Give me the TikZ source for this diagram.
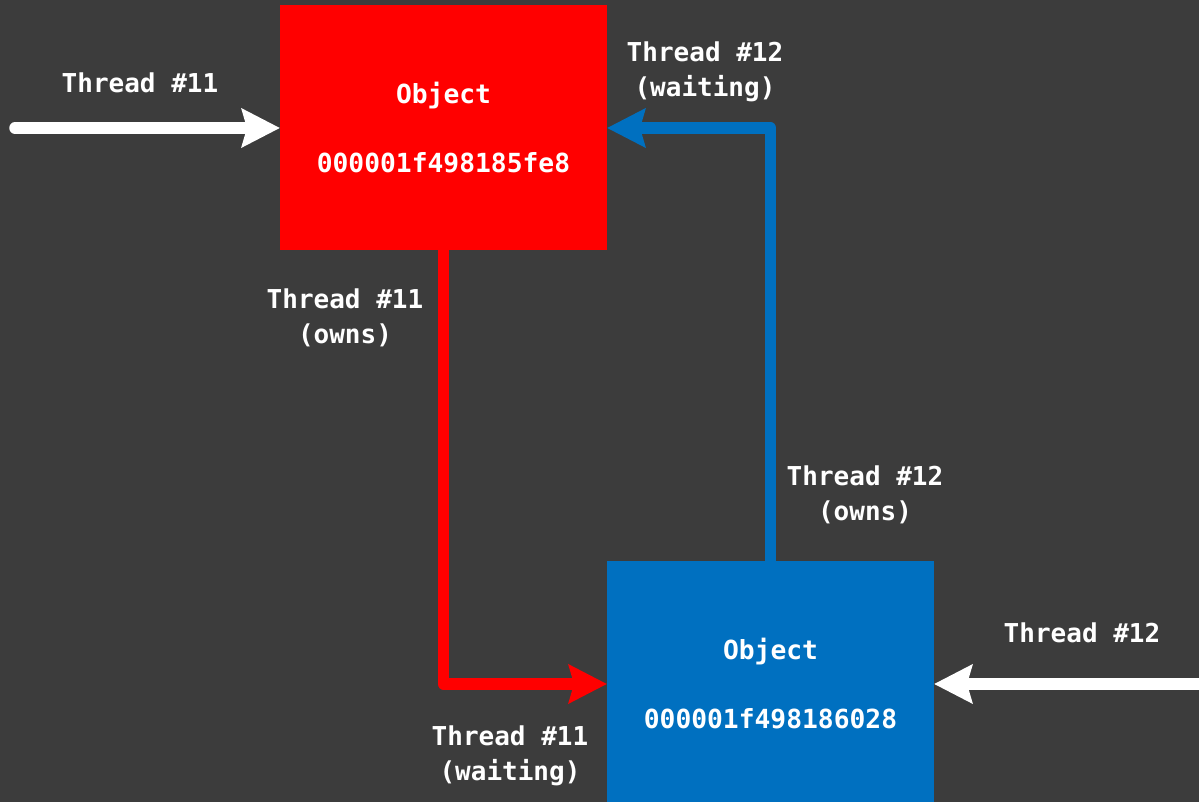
\documentclass[tikz,border=0pt]{standalone}
\usepackage{fontspec}
\setmonofont{DejaVu Sans Mono}
\usetikzlibrary{arrows.meta}
\definecolor{bg}{HTML}{3C3C3C}
\definecolor{objred}{HTML}{FF0000}
\definecolor{objblue}{HTML}{0070C0}
\begin{document}
\begin{tikzpicture}[x=1pt,y=1pt,
  txt/.style={text=white,font=\fontsize{26}{35}\ttfamily\bfseries\selectfont,align=center,inner sep=0pt},
  objbox/.style={minimum width=327pt,minimum height=245pt,inner sep=0pt,outer sep=0pt,text=white,
    font=\fontsize{26.3}{69}\ttfamily\bfseries\selectfont,align=center},
  conn/.style={line width=11.5pt,line join=round,-{Stealth[length=38pt,width=38pt,inset=5pt]}}
]
\useasboundingbox (0,0) rectangle (1199,802);
\fill[bg] (0,0) rectangle (1199,802);

\node[objbox,fill=objred] (A) at (443.5,674) {Object\\000001f498185fe8};
\node[objbox,fill=objblue] (B) at (770.5,118) {Object\\000001f498186028};

\coordinate (w1) at (15,674);
\coordinate (w2) at (1215,118);

\draw[conn,white,line cap=round] (w1) -- (A.west);
\draw[conn,white] (w2) -- (B.east);
\draw[conn,objblue] (B.north) |- (A.east);
\draw[conn,objred] (A.south) |- (B.west);

\node[txt] (l1) at (140,719) {Thread \#11};
\node[txt] (l2) at (705,730) {Thread \#12\\(waiting)};
\node[txt] (l3) at (345,484) {Thread \#11\\(owns)};
\node[txt] (l4) at (865,307) {Thread \#12\\(owns)};
\node[txt] (l5) at (510,46) {Thread \#11\\(waiting)};
\node[txt] (l6) at (1082,169) {Thread \#12};
\end{tikzpicture}
\end{document}
